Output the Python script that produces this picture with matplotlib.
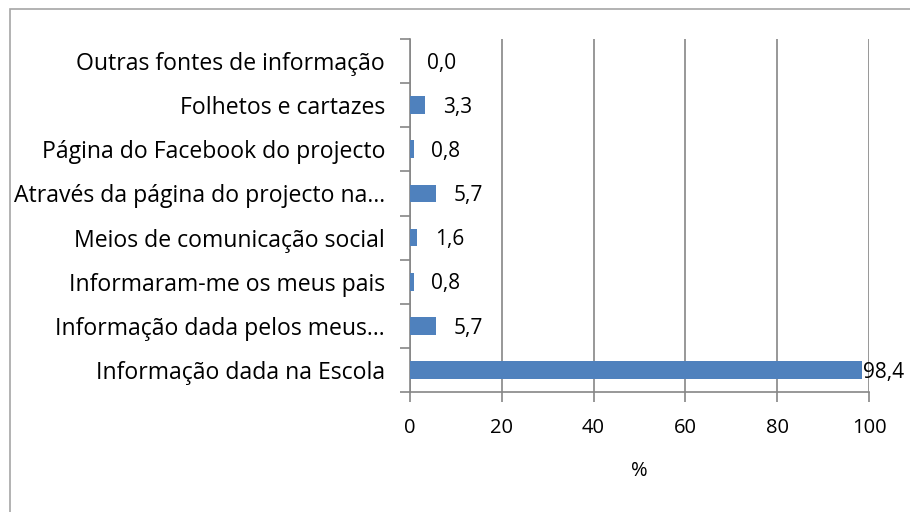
import matplotlib
matplotlib.use("Agg")
import matplotlib.pyplot as plt
from matplotlib.patches import Rectangle

categories = [
    "Informação dada na Escola",
    "Informação dada pelos meus…",
    "Informaram-me os meus pais",
    "Meios de comunicação social",
    "Através da página do projecto na…",
    "Página do Facebook do projecto",
    "Folhetos e cartazes",
    "Outras fontes de informação",
]
values = [98.4, 5.7, 0.8, 1.6, 5.7, 0.8, 3.3, 0.0]
value_labels = ["98,4", "5,7", "0,8", "1,6", "5,7", "0,8", "3,3", "0,0"]
xticks = [0, 20, 40, 60, 80, 100]
xlabel = "%"

plt.rcParams['font.family'] = ['Open Sans', 'DejaVu Sans']
W, H = 910, 512
fig = plt.figure(figsize=(W / 100, H / 100), dpi=100)
ax = fig.add_axes([410 / W, 1 - 392 / H, (869 - 410) / W, (392 - 39) / H])

# outer border
fig.patches.append(Rectangle((10 / W, -0.1), 1.2, 1 - 9 / H + 0.1, transform=fig.transFigure,
                             fill=False, edgecolor="#a6a6a6", linewidth=1.2))

n = len(categories)
ys = list(range(n))
ax.barh(ys, values, height=0.4, color="#4f81bd", zorder=3)
for y, v, lab in zip(ys, values, value_labels):
    ax.text(min(v + 3.8, 98.7), y - 0.05, lab, va="center", ha="left", fontsize=15,
            color="black", zorder=4)

ax.set_xlim(0, 100)
ax.set_ylim(-0.5, n - 0.5)
ax.set_xticks(xticks)
ax.set_xticklabels([str(t) for t in xticks], fontsize=14.5)
ax.set_yticks(ys)
ax.set_yticklabels(categories, fontsize=16.6)
ax.tick_params(axis="y", length=0, pad=18)
ax.tick_params(axis="x", length=7, color="#868686", width=1.2, pad=12)
# category boundary ticks on y axis
ax.set_yticks([i - 0.5 for i in range(n + 1)], minor=True)
ax.tick_params(axis="y", which="minor", length=7, color="#868686", width=1.2)

ax.grid(axis="x", color="#868686", linewidth=1.2, zorder=0)
for s in ["top", "right"]:
    ax.spines[s].set_visible(False)
for s in ["left", "bottom"]:
    ax.spines[s].set_color("#868686")
    ax.spines[s].set_linewidth(1.2)
ax.set_xlabel(xlabel, fontsize=14.5, labelpad=16)

fig.savefig("out.png", dpi=100, facecolor="white")
